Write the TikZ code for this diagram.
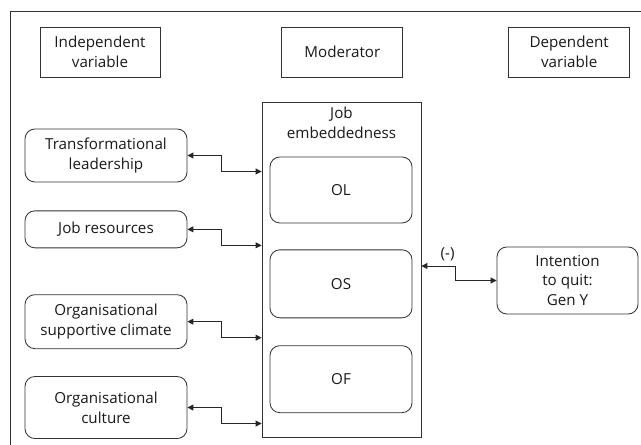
\documentclass[tikz,border=0pt]{standalone}
\usepackage{fontspec}
\setmainfont{Open Sans}
\usepackage{xcolor}
\usepackage{tikz}
\usetikzlibrary{positioning,arrows.meta}

\tikzset{
  every node/.style={font=\fontsize{10.8}{14.2}\selectfont, text=black!90, align=center},
  varbox/.style={draw=black!80, line width=0.6pt, minimum height=1.25cm},
  factorbox/.style={draw=black!80, line width=0.6pt, rounded corners=7pt, minimum width=4.05cm},
  dimbox/.style={draw=black!80, line width=0.6pt, rounded corners=7pt, minimum width=3.55cm},
  link/.style={draw=black!85, line width=0.6pt, {Triangle[length=4.2pt,width=4.2pt]}-{Triangle[length=4.2pt,width=4.2pt]}},
}

\begin{document}
\begin{tikzpicture}
    \useasboundingbox (0,0) rectangle (16.025,11.125);
    % frame (cut at right and bottom)
    \draw[black!80, line width=0.6pt] (0.25,0) -- (0.25,10.85) -- (16.025,10.85);

    % header boxes
    \node[varbox, minimum width=3.0cm] (iv) at (2.5,9.825) {Independent\\variable};
    \node[varbox, minimum width=3.025cm, right=3.025cm of iv] (mod) {Moderator};
    \node[varbox, minimum width=3.025cm, right=2.625cm of mod] (dv) {Dependent\\variable};

    % independent variables
    \node[factorbox, minimum height=1.325cm] (tl) at (2.65,7.2375) {Transformational\\leadership};
    \node[factorbox, minimum height=0.925cm, below=0.7cm of tl] (jr) {Job resources};
    \node[factorbox, minimum height=1.35cm, below=1.15cm of jr] (osc) {Organisational\\supportive climate};
    \node[factorbox, minimum height=1.55cm, below=0.675cm of osc] (oc) {Organisational\\culture};

    % moderator
    \node[draw=black!80, line width=0.6pt, minimum width=3.975cm, minimum height=8.375cm] (je) at (8.5375,4.3875) {};
    \node[below=0pt of je.north] (jetitle) {Job\\embeddedness};
    \node[dimbox, minimum height=1.65cm] (ol) at (8.525,6.375) {OL};
    \node[dimbox, minimum height=1.7cm, below=0.65cm of ol] (os) {OS};
    \node[dimbox, minimum height=1.675cm, below=0.675cm of os] (of) {OF};

    % dependent variable
    \node[factorbox, minimum width=3.525cm, minimum height=1.675cm] (iq) at (14.1875,4.1125) {Intention\\to quit:\\Gen Y};

    % links
    \draw[link] (tl.east) -- ++(0.85,0) |- ([yshift=-0.4cm]je.west |- tl.east);
    \draw[link] (jr.east) -- ++(0.85,0) |- ([yshift=-0.4cm]je.west |- jr.east);
    \draw[link] (osc.east) -- ++(0.85,0) |- ([yshift=-0.4cm]je.west |- osc.east);
    \draw[link] (oc.east) -- ++(0.85,0) |- ([yshift=-0.4cm]je.west |- oc.east);
    \draw[link] (je.east |- 0,4.475) -- node[above, pos=0.78] {(-)} (11.375,4.475) |- (iq.west);
\end{tikzpicture}
\end{document}
